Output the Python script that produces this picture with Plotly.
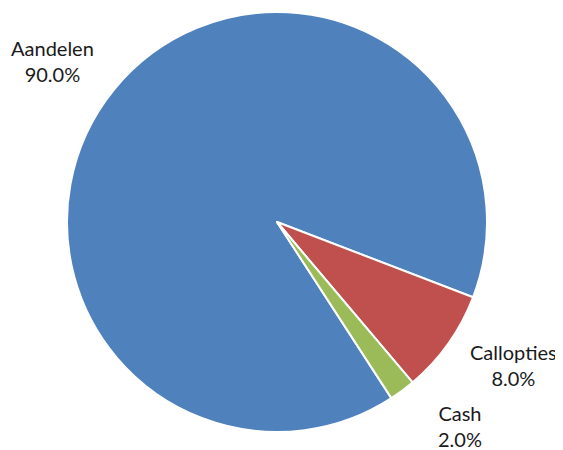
import plotly.graph_objects as go

labels = ["Aandelen", "Callopties", "Cash"]
values = [90.0, 8.0, 2.0]
colors = ["#4F81BD", "#C0504D", "#9BBB59"]

OFF = 8  # page body margin offset
W, H = 563 - OFF, 450 - OFF

fig = go.Figure()
fig.add_trace(go.Pie(
    labels=labels,
    values=values,
    sort=False,
    direction="clockwise",
    rotation=147,
    marker=dict(colors=colors, line=dict(color="white", width=2)),
    textinfo="none",
    hoverinfo="label+percent",
    showlegend=False,
    domain=dict(x=[(67 - OFF)/W, (487 - OFF)/W], y=[1 - (432 - OFF)/H, 1 - (12 - OFF)/H]),
))

# label positions in pixels (center x, center y of the two-line block)
label_pos = {"Aandelen": (52, 61), "Callopties": (513, 365), "Cash": (460, 426)}
total = sum(values)
for lab, val in zip(labels, values):
    px, py = label_pos[lab]
    fig.add_annotation(
        x=(px - OFF)/W, y=1 - (py - OFF)/H, xref="paper", yref="paper",
        xanchor="center", yanchor="middle",
        text=f"{lab}<br>{val/total*100:.1f}%",
        showarrow=False, align="center",
        font=dict(family="Lato", size=20, color="#1a1a1a"),
    )

fig.update_layout(
    width=W, height=H,
    margin=dict(l=0, r=0, t=0, b=0),
    paper_bgcolor="white", plot_bgcolor="white",
)
fig.write_html("out.html")
